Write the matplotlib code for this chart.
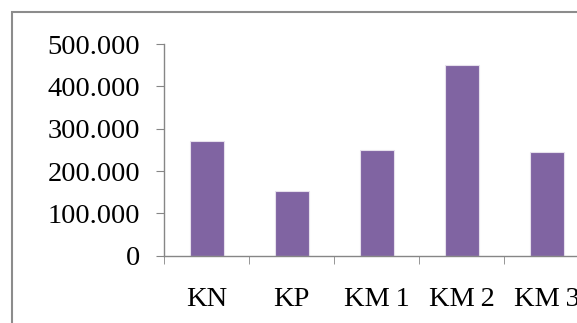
import matplotlib
matplotlib.use("Agg")
import matplotlib.pyplot as plt
from matplotlib.patches import Rectangle
from matplotlib.ticker import FuncFormatter, FixedLocator

categories = ["KN", "KP", "KM\u20091", "KM\u20092", "KM\u20093"]
values = [272000, 153000, 250000, 450000, 244000]
y_ticks = [0, 100000, 200000, 300000, 400000, 500000]

plt.rcParams['font.family'] = ['Liberation Serif', 'DejaVu Serif']

W, H = 577, 323
fig = plt.figure(figsize=(W / 100, H / 100), dpi=100)

# axes placed in pixel terms; right side runs past the figure edge like the original
x0, y0 = 164.3, 255.7
x1, y1 = 589.0, 44.0
ax = fig.add_axes([x0 / W, (H - y0) / H, (x1 - x0) / W, (y0 - y1) / H])

x = range(len(categories))
ax.bar(x, values, width=0.4, color="#8064A2", edgecolor="#E6E0EC", linewidth=0.8)

ax.set_xlim(-0.5, len(categories) - 0.5)
ax.set_ylim(0, 500000)

for s in ["top", "right"]:
    ax.spines[s].set_visible(False)
for s in ["left", "bottom"]:
    ax.spines[s].set_color("#868686")
    ax.spines[s].set_linewidth(1.0)

ax.set_yticks(y_ticks)
ax.yaxis.set_major_formatter(FuncFormatter(lambda v, p: f"{v:,.0f}".replace(",", ".")))
ax.tick_params(axis="y", length=5.5, color="#868686", labelsize=20.5, pad=12)

ax.set_xticks(list(x))
ax.set_xticklabels(categories)
ax.xaxis.set_minor_locator(FixedLocator([i - 0.5 for i in range(len(categories) + 1)]))
ax.tick_params(axis="x", which="major", length=0, labelsize=20.5, pad=22.5)
ax.tick_params(axis="x", which="minor", length=5.5, color="#868686")

# chart area border (only left and top edges fall inside the image)
fig.add_artist(Rectangle((12 / W, -0.1), 1.5, 1.1 - 11.7 / H, transform=fig.transFigure,
                         fill=False, edgecolor="#8C8C8C", linewidth=1.5))

fig.savefig("out.png", dpi=100)
